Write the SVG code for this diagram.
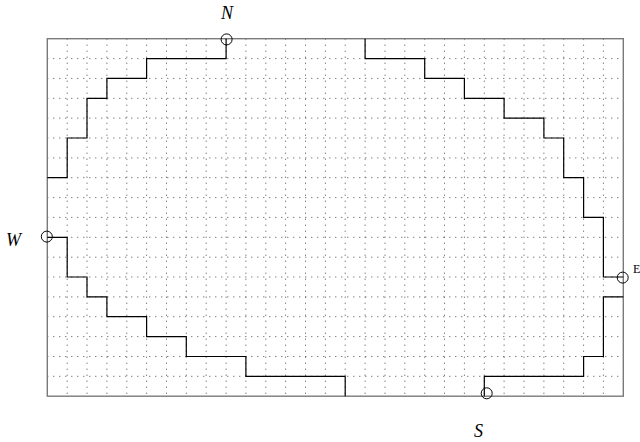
<svg xmlns="http://www.w3.org/2000/svg" width="640" height="442" viewBox="0 0 640 442">
<style>
.grid{stroke:#4a4a4a;stroke-width:1;stroke-dasharray:1 5;fill:none}
.border{stroke:#7a7a7a;stroke-width:1.4;fill:none}
.path{stroke:#000;stroke-width:1.2;fill:none}
.port{stroke:#000;stroke-width:1;fill:none}
.lbl{font-family:"Liberation Serif","Times New Roman",serif;font-style:italic;font-size:18px;fill:#000;text-anchor:middle}
.lblE{font-family:"Liberation Serif","Times New Roman",serif;font-size:12px;fill:#000}
</style>
<rect width="640" height="442" fill="#fff"/>
<g id="grid" class="grid">
<path d="M67.2,38.7V396.2M87.0,38.7V396.2M106.9,38.7V396.2M126.8,38.7V396.2M146.6,38.7V396.2M166.5,38.7V396.2M186.3,38.7V396.2M206.2,38.7V396.2M226.1,38.7V396.2M245.9,38.7V396.2M265.8,38.7V396.2M285.6,38.7V396.2M305.5,38.7V396.2M325.4,38.7V396.2M345.2,38.7V396.2M365.1,38.7V396.2M385.0,38.7V396.2M404.8,38.7V396.2M424.7,38.7V396.2M444.5,38.7V396.2M464.4,38.7V396.2M484.3,38.7V396.2M504.1,38.7V396.2M524.0,38.7V396.2M543.9,38.7V396.2M563.7,38.7V396.2M583.6,38.7V396.2M603.4,38.7V396.2"/>
<path d="M47.3,58.6H623.3M47.3,78.4H623.3M47.3,98.3H623.3M47.3,118.1H623.3M47.3,138.0H623.3M47.3,157.9H623.3M47.3,177.7H623.3M47.3,197.6H623.3M47.3,217.4H623.3M47.3,237.3H623.3M47.3,257.2H623.3M47.3,277.0H623.3M47.3,296.9H623.3M47.3,316.7H623.3M47.3,336.6H623.3M47.3,356.5H623.3M47.3,376.3H623.3"/>
</g>
<rect id="frame" class="border" x="47.3" y="38.7" width="576" height="357.5"/>
<g id="connectors" class="path">
<path d="M226.1,38.7V58.6H146.6V78.4H106.9V98.3H87.0V138.0H67.2V177.7H47.3"/>
<path d="M47.3,237.3H67.2V277.0H87.0V296.9H106.9V316.7H146.6V336.6H186.3V356.5H245.9V376.3H345.2V396.2"/>
<path d="M365.1,38.7V58.6H424.7V78.4H464.4V98.3H504.1V118.1H543.9V138.0H563.7V177.7H583.6V217.4H603.4V277.0H623.3"/>
<path d="M623.3,296.9H603.4V356.5H583.6V376.3H484.3V396.2"/>
</g>
<g id="N">
<circle class="port" cx="226.6" cy="39.4" r="5.5"/>
<text class="lbl" x="227" y="18.5">N</text>
</g>
<g id="W">
<circle class="port" cx="46.8" cy="236.6" r="5.5"/>
<text class="lbl" x="13.5" y="245.5">W</text>
</g>
<g id="E">
<circle class="port" cx="622.7" cy="277.6" r="5.5"/>
<text class="lblE" x="633" y="273">E</text>
</g>
<g id="S">
<circle class="port" cx="486.7" cy="393.3" r="5.5"/>
<text class="lbl" x="478.5" y="436.5">S</text>
</g>
</svg>
